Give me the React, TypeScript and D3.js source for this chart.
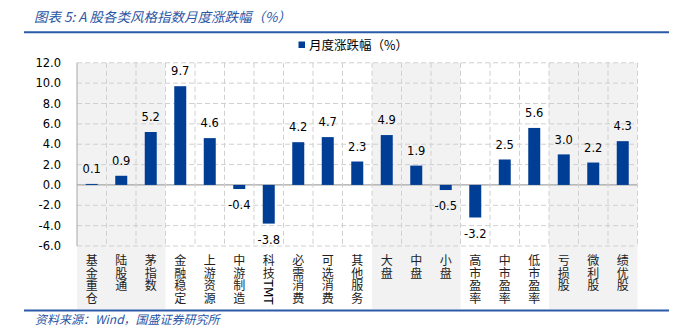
import React from "react";
import * as d3 from "d3";

const categories = [
  "基金重仓", "陆股通", "茅指数", "金融稳定", "上游资源", "中游制造", "科技TMT",
  "必需消费", "可选消费", "其他服务", "大盘", "中盘", "小盘",
  "高市盈率", "中市盈率", "低市盈率", "亏损股", "微利股", "绩优股",
];
const values = [0.1, 0.9, 5.2, 9.7, 4.6, -0.4, -3.8, 4.2, 4.7, 2.3, 4.9, 1.9, -0.5, -3.2, 2.5, 5.6, 3.0, 2.2, 4.3];
const shadedGroups = [[0, 2], [10, 12], [16, 18]];
const yTicks = [-6, -4, -2, 0, 2, 4, 6, 8, 10, 12];
const title = "图表 5:  A 股各类风格指数月度涨跌幅（%）";
const legendLabel = "月度涨跌幅（%）";
const source = "资料来源：Wind，国盛证券研究所";

const W = 675, H = 336;
const left = 77, right = 637.5, top = 62.8, bottom = 246;
const BLUE = "#003e96";
const TXT_BLUE = "#2a56a5";
const CJK = "'Noto Sans CJK SC', sans-serif";
const NUM = "'DejaVu Sans', Verdana, sans-serif";

export default function App() {
  const x = d3.scaleBand<number>().domain(d3.range(categories.length)).range([left, right]).padding(0);
  const y = d3.scaleLinear().domain([-6, 12]).range([bottom, top]);
  const bw = x.bandwidth();
  const barW = 12;

  return (
    <svg width={W} height={H} style={{ position: "fixed", left: 0, top: 0, background: "#fff" }}>
      {/* title */}
      <text x={34} y={22} fontFamily={CJK} fontSize={13.5} fontStyle="italic" fill={TXT_BLUE}>{title}</text>
      <line x1={24} x2={669} y1={32.3} y2={32.3} stroke="#2a5aa8" strokeWidth={2} />

      {/* shaded groups */}
      {shadedGroups.map(([a, b], i) => (
        <rect key={i} x={x(a)!} y={top} width={x(b)! + bw - x(a)!} height={309 - top} fill="#f2f2f2" />
      ))}

      {/* horizontal grid */}
      {yTicks.map((t) => (
        <line key={t} x1={left} x2={right} y1={y(t)} y2={y(t)}
          stroke={t === 0 ? "#a6a6a6" : "#d0d0d0"} strokeWidth={t === 0 ? 1.3 : 1}
          strokeDasharray={t === 0 ? undefined : "5,3"} />
      ))}
      {/* vertical grid */}
      {d3.range(1, categories.length + 1).map((i) => {
        const xx = i === categories.length ? right : x(i)!;
        return <line key={i} x1={xx} x2={xx} y1={top} y2={bottom} stroke="#d0d0d0" strokeDasharray="5,3" />;
      })}
      {/* left axis */}
      <line x1={left} x2={left} y1={top} y2={bottom} stroke="#a6a6a6" strokeWidth={1} />

      {/* y tick labels */}
      {yTicks.map((t) => (
        <text key={t} x={61} y={y(t)} dy="0.36em" textAnchor="end" fontFamily={NUM} fontSize={11.5} fill="#000">
          {t.toFixed(1)}
        </text>
      ))}

      {/* bars */}
      {values.map((v, i) => {
        const cx = x(i)! + bw / 2;
        const y0 = y(0), y1 = y(v);
        return (
          <g key={i}>
            <rect x={cx - barW / 2} y={Math.min(y0, y1)} width={barW} height={Math.abs(y1 - y0)} fill={BLUE} />
            <text x={cx} y={v >= 0 ? y1 - 15 : y1 + 16} dy="0.36em" textAnchor="middle"
              fontFamily={NUM} fontSize={11.5} fill="#000">{v.toFixed(1)}</text>
          </g>
        );
      })}

      {/* category labels (stacked vertical characters) */}
      {categories.map((c, i) => {
        const cx = x(i)! + bw / 2;
        const chars: string[] = [];
        let latin = "";
        for (const ch of c) {
          if (/[A-Za-z]/.test(ch)) latin += ch; else chars.push(ch);
        }
        return (
          <g key={i}>
            {chars.map((ch, j) => (
              <text key={j} x={cx} y={260.5 + j * 12.8} dy="0.36em" textAnchor="middle"
                fontFamily={CJK} fontSize={12} fill="#222">{ch}</text>
            ))}
            {latin && (
              <text transform={`translate(${cx},${254 + chars.length * 12.8}) rotate(90)`} x={0} y={0} dy="0.36em"
                textAnchor="start" fontFamily={NUM} fontSize={12} fill="#000">{latin}</text>
            )}
          </g>
        );
      })}

      {/* legend */}
      <rect x={298.5} y={41.5} width={6.5} height={6.5} fill={BLUE} />
      <text x={309} y={45} dy="0.36em" fontFamily={CJK} fontSize={12.5} fill="#000">{legendLabel}</text>

      {/* bottom line & source */}
      <line x1={24} x2={669} y1={310.5} y2={310.5} stroke="#2a5aa8" strokeWidth={2} />
      <text x={35} y={324} fontFamily={CJK} fontSize={12} fontStyle="italic" fill={TXT_BLUE}>{source}</text>
    </svg>
  );
}
